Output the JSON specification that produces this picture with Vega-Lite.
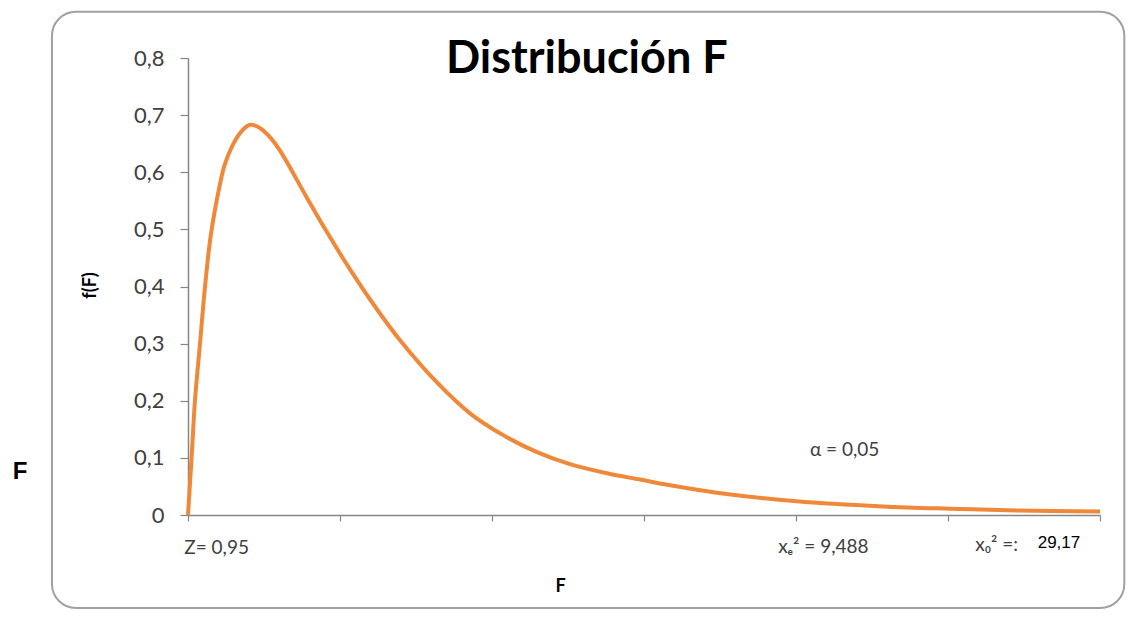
{
  "$schema": "https://vega.github.io/schema/vega-lite/v6.json",
  "width": 912,
  "height": 457,
  "autosize": "none",
  "padding": {"left": 188, "top": 58, "right": 28, "bottom": 103},
  "background": "white",
  "config": {"view": {"stroke": null}, "font": "Lato"},
  "title": {
    "text": "Distribución F",
    "font": "Lato",
    "fontSize": 45,
    "fontWeight": "bold",
    "color": "#000000",
    "anchor": "start",
    "frame": "group",
    "baseline": "alphabetic",
    "dx": 258,
    "dy": 111
  },
  "encoding": {
    "x": {
      "field": "F", "type": "quantitative",
      "scale": {"domain": [0, 6], "nice": false},
      "axis": {
        "title": "F", "titleFont": "Lato", "titleFontSize": 18, "titleFontWeight": "bold", "titleColor": "#000000",
        "titleX": 372, "titleY": 76, "titleBaseline": "alphabetic", "titleAlign": "center",
        "values": [0, 1, 2, 3, 4, 5, 6], "labels": false,
        "grid": false, "domainColor": "#868686", "domainWidth": 1.5,
        "tickColor": "#868686", "tickSize": 6, "tickWidth": 1.2
      }
    },
    "y": {
      "field": "fF", "type": "quantitative",
      "scale": {"domain": [0, 0.8], "nice": false},
      "axis": {
        "title": "f(F)", "titleFont": "Lato", "titleFontSize": 18, "titleFontWeight": "bold", "titleColor": "#000000",
        "titleX": -98, "titleY": 227, "titleAngle": -90, "titleAlign": "center", "titleBaseline": "middle",
        "values": [0, 0.1, 0.2, 0.3, 0.4, 0.5, 0.6, 0.7, 0.8],
        "labelExpr": "datum.value == 0 ? '0' : replace(format(datum.value, '.1f'), '.', ',')",
        "labelFont": "Lato", "labelFontSize": 22, "labelColor": "#404040", "labelPadding": 16,
        "grid": false, "domainColor": "#868686", "domainWidth": 1.5,
        "tickColor": "#868686", "tickSize": 8, "tickWidth": 1.2
      }
    }
  },
  "layer": [
    {
      "data": {"values": [{"F": -0.895, "F2": 6.16, "fF": -0.163, "fF2": 0.881}]},
      "mark": {"type": "rect", "fill": null, "stroke": "#a0a0a0", "strokeWidth": 2, "cornerRadius": 24, "clip": false},
      "encoding": {
        "x2": {"field": "F2"},
        "y2": {"field": "fF2"}
      }
    },
    {
      "data": {"values": [
        {"F": 0, "fF": 0},
        {"F": 0.024, "fF": 0.102},
        {"F": 0.046, "fF": 0.201},
        {"F": 0.079, "fF": 0.300},
        {"F": 0.112, "fF": 0.400},
        {"F": 0.150, "fF": 0.490},
        {"F": 0.211, "fF": 0.580},
        {"F": 0.240, "fF": 0.612},
        {"F": 0.289, "fF": 0.645},
        {"F": 0.353, "fF": 0.672},
        {"F": 0.408, "fF": 0.683},
        {"F": 0.470, "fF": 0.678},
        {"F": 0.530, "fF": 0.664},
        {"F": 0.605, "fF": 0.638},
        {"F": 0.781, "fF": 0.556},
        {"F": 0.901, "fF": 0.501},
        {"F": 1.066, "fF": 0.430},
        {"F": 1.230, "fF": 0.365},
        {"F": 1.395, "fF": 0.306},
        {"F": 1.638, "fF": 0.232},
        {"F": 1.855, "fF": 0.178},
        {"F": 2.072, "fF": 0.140},
        {"F": 2.296, "fF": 0.110},
        {"F": 2.513, "fF": 0.089},
        {"F": 2.757, "fF": 0.073},
        {"F": 2.974, "fF": 0.062},
        {"F": 3.171, "fF": 0.052},
        {"F": 3.478, "fF": 0.039},
        {"F": 4.004, "fF": 0.024},
        {"F": 4.572, "fF": 0.015},
        {"F": 5.013, "fF": 0.011},
        {"F": 5.454, "fF": 0.008},
        {"F": 6.0, "fF": 0.006}
      ]},
      "mark": {"type": "line", "color": "#F0883A", "strokeWidth": 4, "interpolate": "catmull-rom", "clip": false}
    },
    {
      "data": {"values": [
        {"F": 0.188, "fF": -0.058, "label": "Z= 0,95"},
        {"F": 4.18, "fF": -0.056, "label": "xₑ² = 9,488"},
        {"F": 5.32, "fF": -0.053, "label": "x₀² =:"},
        {"F": 4.32, "fF": 0.114, "label": "α = 0,05"}
      ]},
      "mark": {"type": "text", "font": "Lato", "fontSize": 19, "color": "#404040", "baseline": "middle", "align": "center", "clip": false},
      "encoding": {
        "text": {"field": "label"}
      }
    },
    {
      "data": {"values": [{"F": 5.73, "fF": -0.049, "label": "29,17"}]},
      "mark": {"type": "text", "font": "Liberation Sans", "fontSize": 17, "color": "#000000", "baseline": "middle", "align": "center", "clip": false},
      "encoding": {
        "text": {"field": "label"}
      }
    },
    {
      "data": {"values": [{"F": -1.105, "fF": 0.075, "label": "F"}]},
      "mark": {"type": "text", "font": "Liberation Sans", "fontSize": 24, "fontWeight": "bold", "color": "#000000", "baseline": "middle", "align": "center", "clip": false},
      "encoding": {
        "text": {"field": "label"}
      }
    }
  ]
}
